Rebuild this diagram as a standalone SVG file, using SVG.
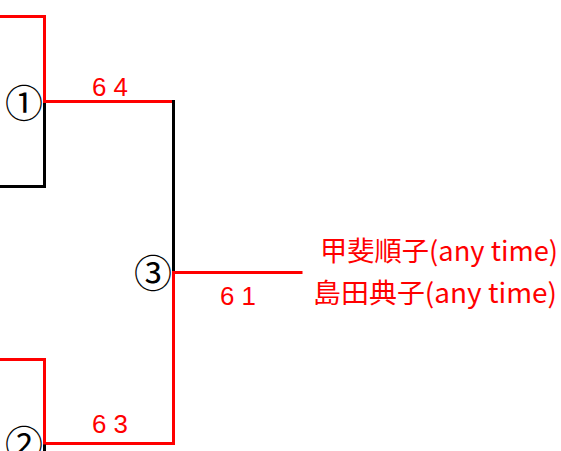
<svg xmlns="http://www.w3.org/2000/svg" width="561" height="451" viewBox="0 0 561 451">
<style>
.r{fill:none;stroke:#ff0000;stroke-width:3;stroke-linecap:square}
.k{fill:none;stroke:#000;stroke-width:3;stroke-linecap:square}
.sc{font-family:"Liberation Sans","Noto Sans CJK JP",sans-serif;font-size:26px;fill:#ff0000}
.nm{font-family:"Noto Sans CJK JP","Liberation Sans",sans-serif;font-size:27px;fill:#ff0000}
.cn{font-family:"Noto Sans CJK JP","DejaVu Sans",sans-serif;font-size:38px;fill:#000;text-anchor:middle;dominant-baseline:central}
</style>
<rect width="561" height="451" fill="#fff"/>
<g id="connectors">
<polyline class="r" points="0,16.5 44.5,16.5 44.5,101.5"/>
<polyline class="k" points="44.5,101.5 44.5,186.5 0,186.5"/>
<polyline class="r" points="44.5,101.5 173.5,101.5"/>
<polyline class="k" points="173.5,101.5 173.5,272.5"/>
<polyline class="r" points="173.5,272.5 173.5,443.5 44.5,443.5 44.5,359.5 0,359.5"/>
<polyline class="k" points="44.5,446 44.5,451"/>
<polyline class="r" points="173.5,272.5 301,272.5"/>
</g>
<g id="match1">
<text class="cn" x="24" y="100">①</text>
<text class="sc" x="92" y="96" textLength="36" lengthAdjust="spacingAndGlyphs">6 4</text>
</g>
<g id="match2">
<text class="cn" x="24" y="441">②</text>
<text class="sc" x="92" y="433" textLength="36" lengthAdjust="spacingAndGlyphs">6 3</text>
</g>
<g id="match3">
<text class="cn" x="153" y="270">③</text>
<text class="sc" x="220" y="305" textLength="36" lengthAdjust="spacingAndGlyphs">6 1</text>
</g>
<g id="winner">
<text class="nm" x="320" y="261" textLength="238" lengthAdjust="spacingAndGlyphs">甲斐順子(any time)</text>
<text class="nm" x="313" y="303" textLength="244" lengthAdjust="spacingAndGlyphs">島田典子(any time)</text>
</g>
</svg>
